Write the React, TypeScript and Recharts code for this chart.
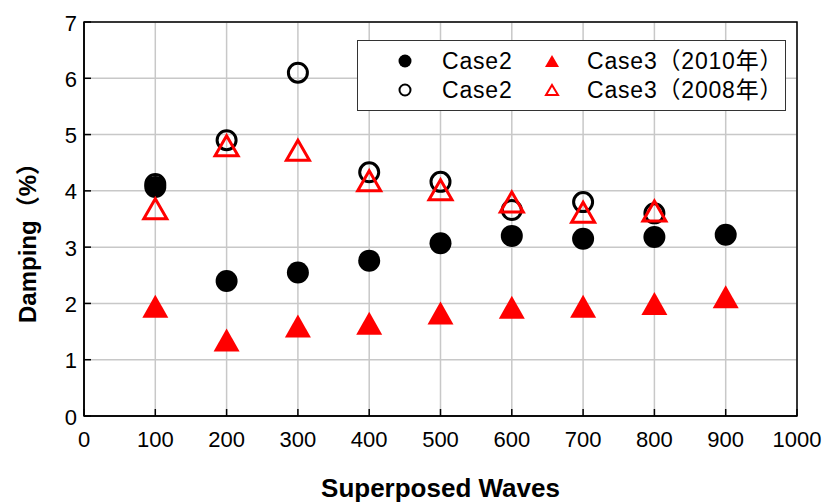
import React from 'react';
import {
  ScatterChart,
  Scatter,
  XAxis,
  YAxis,
  CartesianGrid,
  ReferenceArea,
} from 'recharts';

// x positions (number of superposed waves)
const wavesCase2 = [100, 200, 300, 400, 500, 600, 700, 800, 900];
const dampCase2Filled = [4.07, 2.4, 2.55, 2.76, 3.07, 3.2, 3.15, 3.18, 3.22];

const wavesCase2Open = [100, 200, 300, 400, 500, 600, 700, 800];
const dampCase2Open = [4.12, 4.9, 6.1, 4.33, 4.16, 3.66, 3.8, 3.6];

const wavesCase3 = [100, 200, 300, 400, 500, 600, 700, 800, 900];
const dampCase3_2010 = [1.95, 1.35, 1.6, 1.65, 1.83, 1.93, 1.95, 2.0, 2.12];

const wavesCase3Old = [100, 200, 300, 400, 500, 600, 700, 800];
const dampCase3_2008 = [3.68, 4.8, 4.72, 4.18, 4.02, 3.8, 3.62, 3.64];

const xTicks = [0, 100, 200, 300, 400, 500, 600, 700, 800, 900, 1000];
const yTicks = [0, 1, 2, 3, 4, 5, 6, 7];

const FONT = '"Liberation Sans", Arial, "Noto Sans CJK JP", sans-serif';

const toPoints = (xs: number[], ys: number[]) => xs.map((x, i) => ({ x, y: ys[i] }));

const FilledCircle = (p: any) => <circle cx={p.cx} cy={p.cy} r={11} fill="#000" />;
const OpenCircle = (p: any) => (
  <circle cx={p.cx} cy={p.cy} r={9.5} fill="none" stroke="#000" strokeWidth={3} />
);
const triPath = (cx: number, cy: number, w: number, h: number) =>
  `M${cx},${cy - h / 2} L${cx + w / 2},${cy + h / 2} L${cx - w / 2},${cy + h / 2} Z`;
const FilledTriangle = (p: any) => <path d={triPath(p.cx, p.cy, 26, 23)} fill="#f00" />;
const OpenTriangle = (p: any) => (
  <path d={triPath(p.cx, p.cy, 23, 20)} fill="none" stroke="#f00" strokeWidth={3} strokeLinejoin="miter" />
);

const XTick = (p: any) => (
  <g>
    <line x1={p.x} y1={p.y} x2={p.x} y2={p.y - 7} stroke="#000" strokeWidth={1.5} />
    <text x={p.x} y={p.y + 31} textAnchor="middle" fontSize={22} fill="#000" fontFamily={FONT}>
      {p.payload.value}
    </text>
  </g>
);

const YTick = (p: any) => (
  <g>
    <line x1={p.x} y1={p.y} x2={p.x + 7} y2={p.y} stroke="#000" strokeWidth={1.5} />
    <text x={p.x - 7} y={p.y + 8.5} textAnchor="end" fontSize={22} fill="#000" fontFamily={FONT}>
      {p.payload.value}
    </text>
  </g>
);

// rotated y-axis title, placed a little below the plot's middle like the original
const YTitle = (p: any) => {
  const vb = p.viewBox || { x: 0, y: 22, height: 394 };
  const cx = vb.x + 36;
  const cy = vb.y + vb.height / 2 + 18;
  return (
    <text
      x={cx}
      y={cy}
      transform={`rotate(-90, ${cx}, ${cy})`}
      textAnchor="middle"
      fontSize={24}
      fontWeight="bold"
      fill="#000"
      fontFamily={FONT}
    >
      Damping（%）
    </text>
  );
};

function LegendBox() {
  const row = (y: number) => ({ position: 'absolute' as const, top: y - 14, height: 28, lineHeight: '28px' });
  return (
    <div
      style={{
        position: 'absolute',
        left: 357,
        top: 40,
        width: 427,
        height: 69,
        border: '1px solid #333',
        background: '#fff',
        fontFamily: FONT,
        fontSize: 23,
        letterSpacing: 0.8,
        color: '#000',
      }}
    >
      <svg width={427} height={69} style={{ position: 'absolute', left: 0, top: 0 }}>
        <circle cx={47} cy={20} r={6.5} fill="#000" />
        <circle cx={47} cy={49} r={5.5} fill="none" stroke="#000" strokeWidth={2} />
        <path d={triPath(194, 20, 14, 12)} fill="#f00" />
        <path d={triPath(194, 49, 12, 10)} fill="none" stroke="#f00" strokeWidth={2} />
      </svg>
      <div style={{ ...row(20), left: 84 }}>Case2</div>
      <div style={{ ...row(49), left: 84 }}>Case2</div>
      <div style={{ ...row(20), left: 229, whiteSpace: 'nowrap' }}>Case3（2010年）</div>
      <div style={{ ...row(49), left: 229, whiteSpace: 'nowrap' }}>Case3（2008年）</div>
    </div>
  );
}

export default function App() {
  return (
    <div style={{ position: 'absolute', left: 0, top: 0, width: 827, height: 503, background: '#fff' }}>
      <ScatterChart width={827} height={503} margin={{ top: 22, right: 30, bottom: 0, left: 0 }}>
        <CartesianGrid stroke="#c8c8c8" strokeWidth={1.5} />
        <XAxis
          type="number"
          dataKey="x"
          domain={[0, 1000]}
          ticks={xTicks}
          height={87}
          tickSize={0}
          tickMargin={0}
          tickLine={false}
          axisLine={{ stroke: '#000', strokeWidth: 1.5 }}
          tick={<XTick />}
          interval={0}
          label={{
            value: 'Superposed Waves',
            position: 'insideBottom',
            offset: 6,
            fontSize: 26,
            fontWeight: 'bold',
            fill: '#000',
            fontFamily: FONT,
          }}
        />
        <YAxis
          type="number"
          dataKey="y"
          domain={[0, 7]}
          ticks={yTicks}
          width={84}
          tickSize={0}
          tickMargin={0}
          tickLine={false}
          axisLine={{ stroke: '#000', strokeWidth: 1.5 }}
          tick={<YTick />}
          interval={0}
          label={{ content: YTitle }}
        />
        <ReferenceArea x1={0} x2={1000} y1={0} y2={7} fill="none" stroke="#000" strokeWidth={1.5} ifOverflow="visible" />
        <Scatter data={toPoints(wavesCase2Open, dampCase2Open)} shape={OpenCircle} isAnimationActive={false} />
        <Scatter data={toPoints(wavesCase2, dampCase2Filled)} shape={FilledCircle} isAnimationActive={false} />
        <Scatter data={toPoints(wavesCase3, dampCase3_2010)} shape={FilledTriangle} isAnimationActive={false} />
        <Scatter data={toPoints(wavesCase3Old, dampCase3_2008)} shape={OpenTriangle} isAnimationActive={false} />
      </ScatterChart>
      <LegendBox />
    </div>
  );
}
